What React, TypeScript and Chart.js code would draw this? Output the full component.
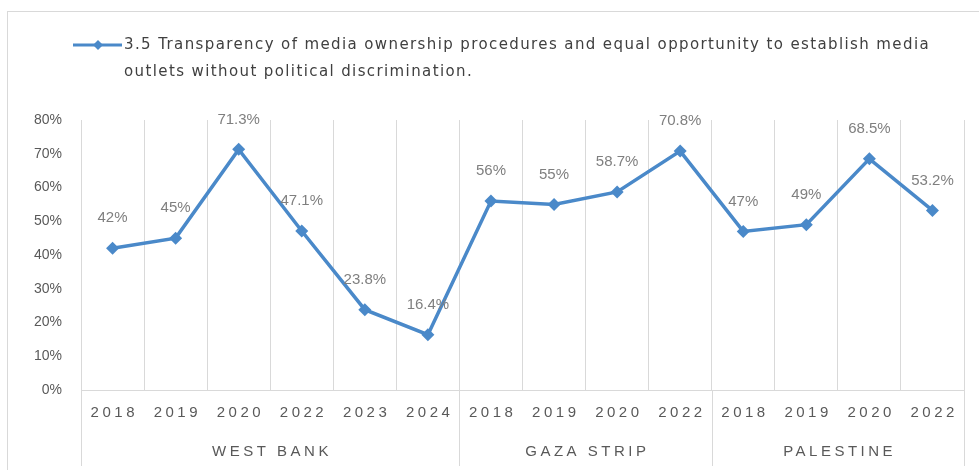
import React, { useEffect, useRef } from 'react';
import { Chart, registerables } from 'chart.js';

Chart.register(...registerables);

const years = ['2018', '2019', '2020', '2022', '2023', '2024', '2018', '2019', '2020', '2022', '2018', '2019', '2020', '2022'];
const groups = ['WEST BANK', 'GAZA STRIP', 'PALESTINE'];
const groupSizes = [6, 4, 4];
const values = [42, 45, 71.3, 47.1, 23.8, 16.4, 56, 55, 58.7, 70.8, 47, 49, 68.5, 53.2];
const legendLines = [
  '3.5 Transparency of media ownership procedures and equal opportunity to establish media',
  'outlets without political discrimination.',
];
const yMax = 80;
const yStep = 10;

const BLUE = '#4a89c9';
const FONT = '"Liberation Sans", Arial, sans-serif';
const LEGEND_FONT = '"DejaVu Sans", "Liberation Sans", Arial, sans-serif';

const customPlugin = {
  id: 'custom',
  beforeDraw(chart: any) {
    const ctx = chart.ctx;
    ctx.save();
    ctx.fillStyle = '#ffffff';
    ctx.fillRect(0, 0, chart.width, chart.height);
    ctx.strokeStyle = '#d9d9d9';
    ctx.lineWidth = 1;
    ctx.strokeRect(7.5, 11.5, chart.width + 10, chart.height + 10);
    ctx.restore();
  },
  afterDatasetsDraw(chart: any) {
    const ctx = chart.ctx;
    const meta = chart.getDatasetMeta(0);
    ctx.save();
    ctx.font = '15px ' + FONT;
    ctx.fillStyle = '#7f7f7f';
    ctx.textAlign = 'center';
    ctx.textBaseline = 'middle';
    meta.data.forEach((pt: any, i: number) => {
      ctx.fillText(values[i] + '%', pt.x, pt.y - 30);
    });
    ctx.restore();
  },
  afterDraw(chart: any) {
    const ctx = chart.ctx;
    const xs = chart.scales.x;
    const area = chart.chartArea;
    ctx.save();
    // year labels
    ctx.font = '15px ' + FONT;
    ctx.fillStyle = '#595959';
    ctx.textAlign = 'center';
    ctx.textBaseline = 'middle';
    (ctx as any).letterSpacing = '3.5px';
    years.forEach((y, i) => {
      ctx.fillText(y, xs.getPixelForValue(i) + 1.75, area.bottom + 23);
    });
    // group labels and separators
    ctx.strokeStyle = '#d9d9d9';
    ctx.lineWidth = 1;
    let start = 0;
    const bounds: number[] = [xs.getPixelForValue(-0.5)];
    (ctx as any).letterSpacing = '3.5px';
    groups.forEach((g, gi) => {
      const end = start + groupSizes[gi] - 1;
      const l = xs.getPixelForValue(start - 0.5);
      const r = xs.getPixelForValue(end + 0.5);
      bounds.push(r);
      ctx.fillText(g, (l + r) / 2 + 1.75, area.bottom + 62);
      start = end + 1;
    });
    bounds.forEach((b) => {
      const x = Math.round(b) + 0.5;
      ctx.beginPath();
      ctx.moveTo(x, area.bottom);
      ctx.lineTo(x, area.bottom + 76);
      ctx.stroke();
    });
    // legend
    const ly = 45;
    ctx.strokeStyle = BLUE;
    ctx.lineWidth = 3;
    ctx.beginPath();
    ctx.moveTo(73, ly);
    ctx.lineTo(122, ly);
    ctx.stroke();
    ctx.fillStyle = BLUE;
    ctx.beginPath();
    ctx.moveTo(98, ly - 5);
    ctx.lineTo(103, ly);
    ctx.lineTo(98, ly + 5);
    ctx.lineTo(93, ly);
    ctx.closePath();
    ctx.fill();
    ctx.font = '15px ' + LEGEND_FONT;
    ctx.fillStyle = '#404040';
    ctx.textAlign = 'left';
    (ctx as any).letterSpacing = '0px';
    const w0 = ctx.measureText(legendLines[0]).width;
    const sp = (806 - w0) / legendLines[0].length;
    (ctx as any).letterSpacing = sp.toFixed(2) + 'px';
    legendLines.forEach((line, i) => {
      ctx.fillText(line, 124, ly + i * 27);
    });
    ctx.restore();
  },
};

export default function App() {
  const ref = useRef<HTMLCanvasElement | null>(null);
  useEffect(() => {
    document.body.style.margin = '0';
    if (!ref.current) return;
    const chart = new Chart(ref.current, {
      type: 'line',
      data: {
        labels: years,
        datasets: [
          {
            label: legendLines.join(' '),
            data: values,
            borderColor: BLUE,
            backgroundColor: BLUE,
            borderWidth: 3.5,
            pointStyle: 'rectRot',
            pointRadius: 6.5,
            pointBorderWidth: 0,
            tension: 0,
          },
        ],
      },
      options: {
        animation: false,
        responsive: false,
        devicePixelRatio: 1,
        layout: { padding: { top: 120, right: 15, left: 0, bottom: 0 } },
        plugins: { legend: { display: false }, tooltip: { enabled: false } },
        scales: {
          x: {
            type: 'category',
            offset: true,
            grid: { display: true, offset: true, color: '#d9d9d9', lineWidth: 1, drawTicks: false },
            border: { display: true, color: '#d9d9d9', width: 1 },
            ticks: { display: false },
            afterFit: (s: any) => {
              s.height = 80;
            },
          },
          y: {
            min: 0,
            max: yMax,
            grid: { display: false, drawTicks: false },
            border: { display: false },
            ticks: {
              stepSize: yStep,
              padding: 19,
              color: '#595959',
              font: { size: 14, family: FONT },
              callback: (v: any) => v + '%',
            },
            afterFit: (s: any) => {
              s.width = 81;
            },
          },
        },
      },
      plugins: [customPlugin],
    });
    return () => chart.destroy();
  }, []);
  return (
    <div style={{ width: 979, height: 470 }}>
      <canvas ref={ref} width={979} height={470} />
    </div>
  );
}
